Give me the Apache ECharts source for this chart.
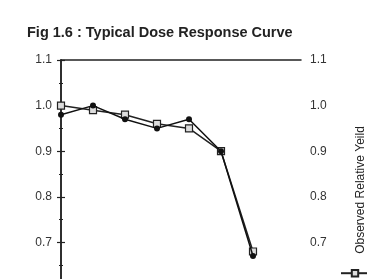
<!DOCTYPE html>
<html>
<head>
<meta charset="utf-8">
<script src="https://cdn.jsdelivr.net/npm/echarts@6/dist/echarts.min.js"></script>
<style>
  html, body { margin: 0; padding: 0; background: #fff; }
  #chart { width: 367px; height: 279px; }
</style>
</head>
<body>
<div id="chart"></div>
<script>
// dose steps (x positions) and yields
const doses = [0, 1, 2, 3, 4, 5, 6];
const predicted = [0.98, 1.00, 0.97, 0.95, 0.97, 0.90, 0.67];
const observed = [1.00, 0.99, 0.98, 0.96, 0.95, 0.90, 0.68];
const yTicks = [0.6, 0.7, 0.8, 0.9, 1.0, 1.1];

const pairs = (ys) => doses.map((d, i) => [d, ys[i]]);

const axisCommon = {
  type: 'value',
  min: yTicks[0],
  max: yTicks[yTicks.length - 1],
  interval: 0.1,
  axisLine: { show: true, lineStyle: { color: '#222', width: 1.5 } },
  axisTick: { show: true, length: 4, lineStyle: { color: '#222', width: 1.2 } },
  minorTick: { show: true, splitNumber: 2, length: 2, lineStyle: { color: '#222', width: 1 } },
  splitLine: { show: false },
  axisLabel: {
    color: '#333',
    fontFamily: 'Liberation Sans, Arial, sans-serif',
    fontSize: 12,
    margin: 9,
    formatter: (v) => v.toFixed(1),
  },
};

const myChart = echarts.init(document.getElementById('chart'));
myChart.setOption({
  animation: false,
  title: {
    text: 'Fig 1.6 : Typical Dose Response Curve',
    left: 22,
    top: 20,
    textStyle: {
      color: '#222',
      fontFamily: 'Liberation Sans, Arial, sans-serif',
      fontSize: 14.5,
      fontWeight: 'bold',
    },
  },
  // the plot runs past the bottom edge of the picture, as in the original scan
  grid: { left: 61, top: 60, width: 240, height: 228, outerBoundsMode: 'none', containLabel: false },
  xAxis: [
    {
      type: 'value', min: 0, max: 7.5, position: 'bottom',
      axisLine: { show: true, lineStyle: { color: '#222', width: 1.5 } },
      axisTick: { show: false }, axisLabel: { show: false }, splitLine: { show: false },
    },
    {
      type: 'value', min: 0, max: 7.5, position: 'top',
      axisLine: { show: true, lineStyle: { color: '#222', width: 1.5 } },
      axisTick: { show: false }, axisLabel: { show: false }, splitLine: { show: false },
    },
  ],
  yAxis: [
    Object.assign({}, axisCommon, { position: 'left' }),
    Object.assign({}, axisCommon, { position: 'right' }),
  ],
  legend: {
    data: ['Observed Relative Yeild'],
    left: 335,
    top: 264,
    itemWidth: 28,
    itemHeight: 8,
    itemGap: 0,
    formatter: () => '',
  },
  graphic: [
    {
      type: 'text',
      x: 361,
      y: 190,
      rotation: Math.PI / 2,
      style: {
        text: 'Observed Relative Yeild',
        fill: '#222',
        font: '12px "Liberation Sans", Arial, sans-serif',
        align: 'center',
        verticalAlign: 'middle',
      },
    },
  ],
  series: [
    {
      name: 'Observed Relative Yeild',
      type: 'line',
      data: pairs(observed),
      symbol: 'rect',
      symbolSize: 7,
      lineStyle: { color: '#222', width: 1.5 },
      itemStyle: { color: '#ddd', borderColor: '#222', borderWidth: 1.2 },
      z: 2,
    },
    {
      name: 'Predicted',
      type: 'line',
      data: pairs(predicted),
      symbol: 'circle',
      symbolSize: 6,
      lineStyle: { color: '#111', width: 1.5 },
      itemStyle: { color: '#111' },
      z: 3,
    },
  ],
});
</script>
</body>
</html>
